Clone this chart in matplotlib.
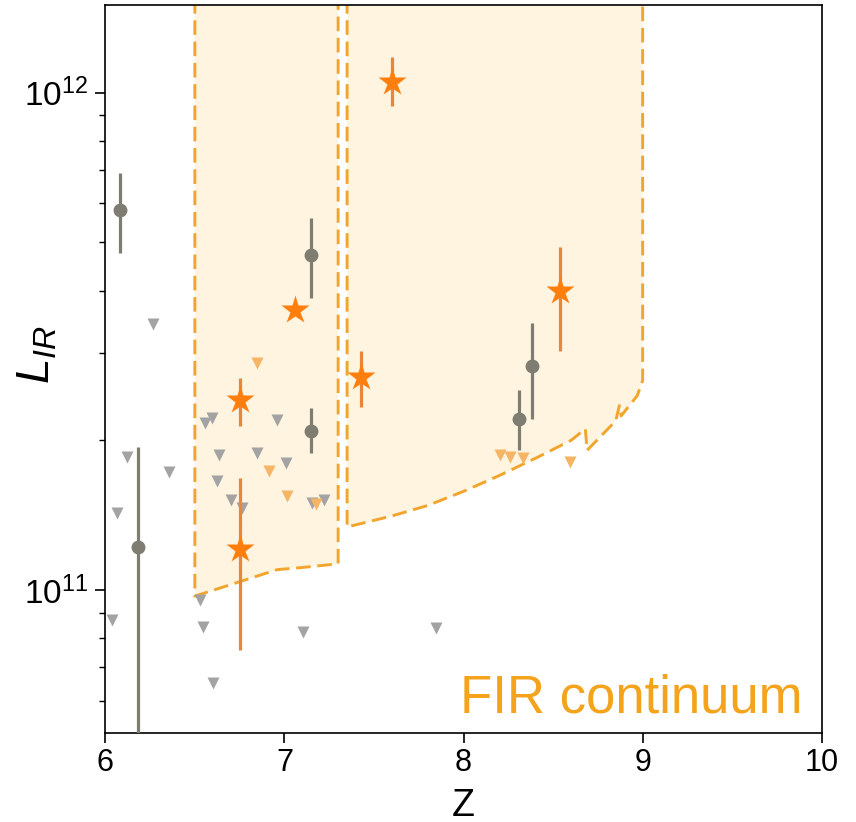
import matplotlib
matplotlib.use("Agg")
import matplotlib.pyplot as plt
import numpy as np

plt.rcParams["font.family"] = ["Liberation Sans", "DejaVu Sans"]
plt.rcParams["mathtext.fontset"] = "custom"
plt.rcParams["mathtext.rm"] = "Liberation Sans"
plt.rcParams["mathtext.it"] = "Liberation Sans:italic"

# FIR continuum selection window (two redshift slices, lower luminosity limit)
win1_z = [6.50, 6.75, 6.96, 7.09, 7.30]
win1_lo = [9.73e10, 1.04e11, 1.10e11, 1.11e11, 1.13e11]
win2_z = [7.35, 7.60, 7.80, 8.00, 8.20, 8.40, 8.60, 8.68, 8.69, 8.85, 8.87, 8.88, 8.97, 9.00]
win2_lo = [1.34e11, 1.41e11, 1.48e11, 1.58e11, 1.70e11, 1.84e11, 2.00e11, 2.11e11,
           1.91e11, 2.19e11, 2.35e11, 2.24e11, 2.46e11, 2.64e11]

# detections (grey circles)
det_z = [6.08, 6.18, 7.15, 7.15, 8.31, 8.38]
det_L = [5.8e11, 1.22e11, 4.71e11, 2.09e11, 2.21e11, 2.82e11]
det_hi = [6.9e11, 1.94e11, 5.6e11, 2.32e11, 2.52e11, 3.45e11]
det_lo = [4.77e11, 4.0e10, 3.86e11, 1.89e11, 1.91e11, 2.21e11]

# FIR continuum detections (orange stars)
fir_z = [6.75, 6.75, 7.06, 7.43, 7.60, 8.54]
fir_L = [2.41e11, 1.21e11, 3.65e11, 2.68e11, 1.05e12, 4.0e11]
fir_hi = [2.67e11, 1.68e11, 3.65e11, 3.03e11, 1.18e12, 4.9e11]
fir_lo = [2.14e11, 7.6e10, 3.65e11, 2.33e11, 9.4e11, 3.02e11]

# upper limits (grey triangles)
ul_z = [6.268, 6.597, 6.558, 6.960, 6.123, 6.357, 6.636, 6.848, 7.010, 6.625, 6.703,
        6.764, 7.155, 7.222, 6.067, 6.530, 6.039, 6.547, 7.105, 6.603, 7.847]
ul_L = [3.43e11, 2.22e11, 2.17e11, 2.20e11, 1.85e11, 1.73e11, 1.87e11, 1.89e11, 1.80e11,
        1.66e11, 1.52e11, 1.46e11, 1.50e11, 1.52e11, 1.43e11, 9.55e10, 8.71e10, 8.43e10,
        8.24e10, 6.51e10, 8.40e10]

# upper limits in the FIR selection (orange triangles)
ulf_z = [6.848, 6.915, 7.015, 7.177, 8.204, 8.259, 8.332, 8.594]
ulf_L = [2.86e11, 1.74e11, 1.55e11, 1.49e11, 1.87e11, 1.85e11, 1.84e11, 1.81e11]

C_EDGE = "#f2a52c"
C_FILL = "#fff4e0"
C_STAR = "#ff7f0e"
C_DET = "#7f7d72"

fig = plt.figure(figsize=(8.56, 8.22), dpi=100)
ax = fig.add_axes([0.123, 0.108, 0.837, 0.886])
ax.set_yscale("log")

top = 1e13
for zz, lo in [(win1_z, win1_lo), (win2_z, win2_lo)]:
    xs = [zz[0]] + list(zz) + [zz[-1]]
    ys = [top] + list(lo) + [top]
    ax.fill(xs, ys, facecolor=C_FILL, edgecolor="none", zorder=0)
    ax.plot(xs, ys, color=C_EDGE, lw=2.1, ls=(0, (5, 2.3)), zorder=1)

ax.plot(ul_z, ul_L, "v", color="#a3a3a3", ms=9, mec="none", zorder=2)
ax.plot(ulf_z, ulf_L, "v", color="#f6b465", ms=9, mec="none", zorder=2)

det_err = [np.array(det_L) - np.array(det_lo), np.array(det_hi) - np.array(det_L)]
ax.errorbar(det_z, det_L, yerr=det_err, fmt="o", color=C_DET, ms=9, elinewidth=2.3,
            capsize=0, zorder=3)

fir_err = [np.array(fir_L) - np.array(fir_lo), np.array(fir_hi) - np.array(fir_L)]
ax.errorbar(fir_z, fir_L, yerr=fir_err, fmt="none", ecolor="#e8873a", elinewidth=2.3,
            capsize=0, zorder=4)
ax.plot(fir_z, fir_L, "*", color=C_STAR, ms=21, mec="none", zorder=5)

ax.set_xlim(6, 10)
ax.set_ylim(5.16e10, 1.5e12)
ax.set_xticks([6, 7, 8, 9, 10])
ax.tick_params(axis="both", which="major", length=7, width=1.2)
ax.tick_params(axis="x", which="major", labelsize=22)
ax.tick_params(axis="y", which="major", labelsize=24, pad=5)
ax.tick_params(axis="y", which="minor", length=4, width=1.0, labelleft=False)
ax.set_xlabel("Z", fontsize=27, fontstyle="normal", labelpad=7)
ax.set_ylabel("$L_{IR}$", fontsize=33)
ax.yaxis.set_label_coords(-0.064, 0.52)
for s in ax.spines.values():
    s.set_linewidth(1.2)

ax.text(0.973, 0.029, "FIR continuum", transform=ax.transAxes, ha="right",
        va="baseline", fontsize=38, color="#f4a41c")

fig.savefig("out.png", dpi=100)
